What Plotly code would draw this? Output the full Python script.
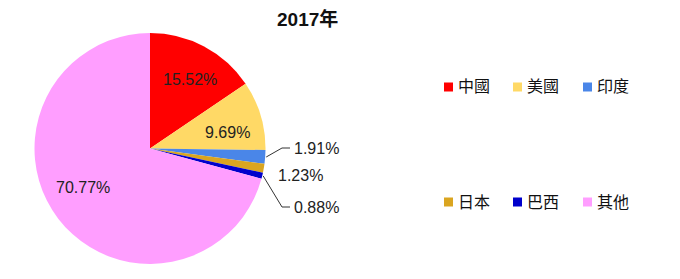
import math
import plotly.graph_objects as go

labels = ["中國", "美國", "印度", "日本", "巴西", "其他"]
values = [15.52, 9.69, 1.91, 1.23, 0.88, 70.77]
colors = ["#FF0000", "#FFD966", "#4A86E8", "#DAA520", "#0000CC", "#FF9EFF"]
title_text = "2017年"

W, H = 680, 279
font_family = "Liberation Sans, Arial, Noto Sans CJK TC, sans-serif"

# pie geometry (pixels)
cx, cy, R = 150, 148.5, 115.5

fig = go.Figure()
fig.add_trace(go.Pie(
    labels=labels,
    values=values,
    sort=False,
    direction="clockwise",
    rotation=0,
    marker=dict(colors=colors, line=dict(width=0)),
    textinfo="none",
    showlegend=False,
    hoverinfo="label+value",
    domain=dict(x=[(cx - R) / W, (cx + R) / W], y=[(H - cy - R) / H, (H - cy + R) / H]),
    automargin=False,
))

def px(x, y):
    return x / W, 1 - y / H

total = sum(values)
cum = 0.0
mids = []
for v in values:
    mids.append((cum + v / 2) / total * 2 * math.pi)
    cum += v

# label placement: (x, y, xanchor, leader)
placement = {
    0: (190, 79, "center", False),
    1: (228, 132, "center", False),
    2: (292, 148, "left", True),
    3: (276, 175, "left", False),
    4: (292, 207, "left", True),
    5: (83, 187, "center", False),
}
for i, (tx, ty, anchor, leader) in placement.items():
    x, y = px(tx, ty)
    fig.add_annotation(x=x, y=y, xref="paper", yref="paper",
                       text=f"{values[i]:.2f}%", showarrow=False,
                       xanchor=anchor, yanchor="middle",
                       font=dict(size=16, color="#222222", family=font_family))
    if leader:
        a = mids[i]
        ex, ey = cx + (R + 1) * math.sin(a), cy - (R + 1) * math.cos(a)
        path = "M {} {} L {} {} L {} {}".format(
            *px(ex, ey), *px(tx - 10, ty), *px(tx - 2, ty))
        fig.add_shape(type="path", xref="paper", yref="paper", path=path,
                      line=dict(color="#333333", width=1))

# Title
fig.add_annotation(x=307 / W, y=1 - 19 / H, xref="paper", yref="paper",
                   text="<b>" + title_text + "</b>", showarrow=False,
                   xanchor="center", yanchor="middle",
                   font=dict(size=19, color="#111111", family=font_family))

# Legend built from labels/colors (two rows of three)
col_x = [444, 513, 583]
row_y = [87, 202]
for i, (lab, col) in enumerate(zip(labels, colors)):
    r, c = divmod(i, 3)
    x0 = col_x[c]
    yc = row_y[r]
    fig.add_shape(type="rect", xref="paper", yref="paper",
                  x0=x0 / W, x1=(x0 + 9) / W,
                  y0=1 - (yc + 4.5) / H, y1=1 - (yc - 4.5) / H,
                  fillcolor=col, line=dict(width=0))
    fig.add_annotation(x=(x0 + 12) / W, y=1 - yc / H, xref="paper", yref="paper",
                       text=lab, showarrow=False, xanchor="left", yanchor="middle",
                       font=dict(size=16, color="#111111", family=font_family))

fig.update_layout(
    width=W, height=H,
    margin=dict(l=0, r=0, t=0, b=0),
    paper_bgcolor="white", plot_bgcolor="white",
)

fig.write_html("out.html")
